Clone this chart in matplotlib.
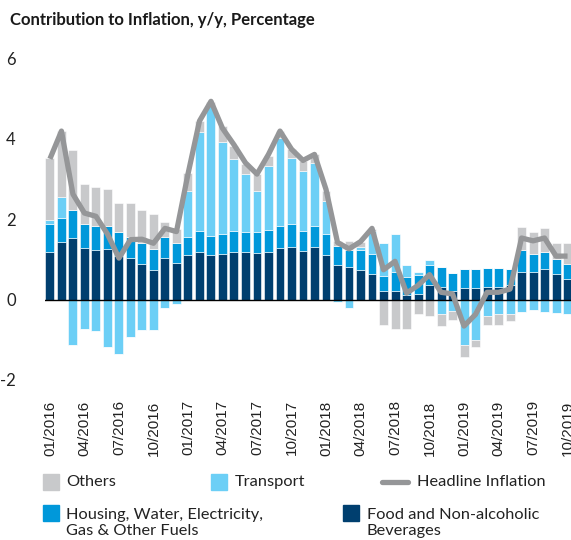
import matplotlib
matplotlib.use('Agg')
import matplotlib.pyplot as plt
from matplotlib.patches import Rectangle
from matplotlib.lines import Line2D
import numpy as np

months = ['%02d/%d' % (m, y) for y in range(2016, 2020) for m in range(1, 13)][:46]

food = [1.17, 1.42, 1.52, 1.27, 1.23, 1.25, 1.09, 1.04, 0.88, 0.74, 1.04, 0.90,
        1.10, 1.17, 1.10, 1.12, 1.17, 1.17, 1.15, 1.17, 1.28, 1.31, 1.20, 1.30,
        1.11, 0.86, 0.81, 0.74, 0.63, 0.21, 0.20, 0.12, 0.14, 0.36, 0.31, 0.20,
        0.29, 0.29, 0.31, 0.31, 0.35, 0.68, 0.68, 0.76, 0.63, 0.50]
housing = [0.72, 0.62, 0.71, 0.62, 0.59, 0.58, 0.60, 0.51, 0.52, 0.51, 0.51, 0.51,
           0.46, 0.54, 0.49, 0.52, 0.54, 0.50, 0.52, 0.56, 0.56, 0.56, 0.51, 0.54,
           0.51, 0.48, 0.42, 0.48, 0.49, 0.37, 0.49, 0.43, 0.48, 0.51, 0.49, 0.47,
           0.48, 0.48, 0.48, 0.48, 0.41, 0.55, 0.45, 0.41, 0.39, 0.38]
transport = [0.09, 0.50, -1.13, -0.74, -0.79, -1.17, -1.36, -0.93, -0.77, -0.75, -0.21, -0.10,
             1.13, 2.45, 3.22, 2.29, 1.78, 1.45, 1.04, 1.59, 2.18, 1.66, 1.48, 1.56,
             0.83, -0.07, -0.21, 0.08, 0.58, 0.82, 0.95, 0.32, 0.07, 0.11, -0.36, -0.29,
             -1.14, -1.00, -0.41, -0.37, -0.36, -0.31, -0.27, -0.31, -0.33, -0.35]
others = [1.53, 1.65, 1.49, 0.99, 0.99, 0.92, 0.71, 0.85, 0.83, 0.88, 0.39, 0.35,
          0.45, 0.29, 0.10, 0.38, 0.33, 0.26, 0.42, 0.25, 0.17, 0.21, 0.26, 0.21,
          0.25, 0.12, 0.23, 0.12, 0.05, -0.64, -0.74, -0.73, -0.36, -0.41, -0.29, -0.23,
          -0.29, -0.18, -0.23, -0.27, -0.18, 0.58, 0.56, 0.61, 0.38, 0.52]
headline = [3.50, 4.19, 2.62, 2.15, 2.07, 1.63, 1.03, 1.49, 1.50, 1.40, 1.77, 1.69,
            3.12, 4.44, 4.93, 4.26, 3.85, 3.40, 3.12, 3.61, 4.19, 3.74, 3.46, 3.61,
            2.74, 1.42, 1.26, 1.44, 1.77, 0.74, 0.95, 0.16, 0.35, 0.62, 0.18, 0.14,
            -0.66, -0.37, 0.18, 0.18, 0.26, 1.53, 1.46, 1.53, 1.08, 1.08]

c_food = '#003f6f'
c_housing = '#0098da'
c_transport = '#6ccff6'
c_others = '#c8c9cb'
c_head = '#959698'

W, H = 571, 540
fig = plt.figure(figsize=(W / 100, H / 100), dpi=100)
ax = fig.add_axes([45 / W, (H - 392) / H, 526 / W, 333.7 / H])

x = np.arange(len(months))
bw = 0.78
pos_base = np.zeros(len(x))
neg_base = np.zeros(len(x))
# stack order: food, housing, transport, others (positives up, negatives down)
for vals, col in [(food, c_food), (housing, c_housing), (transport, c_transport), (others, c_others)]:
    v = np.array(vals)
    pos = np.where(v > 0, v, 0)
    neg = np.where(v < 0, v, 0)
    ax.bar(x, pos, bw, bottom=pos_base, color=col, edgecolor='white', linewidth=0.4)
    ax.bar(x, neg, bw, bottom=neg_base, color=col, edgecolor='white', linewidth=0.4)
    pos_base += pos
    neg_base += neg

ax.plot(x, headline, color=c_head, lw=3.8, solid_joinstyle='round', solid_capstyle='butt', zorder=5)
ax.axhline(0, color='black', lw=1.0, zorder=4)

ax.set_xlim(-0.43, 45.3)
ax.set_ylim(-2.3, 6.0)
for s in ax.spines.values():
    s.set_visible(False)
ax.set_yticks([-2, 0, 2, 4, 6])
ax.set_yticklabels(['-2', '0', '2', '4', '6'], fontfamily='Lato', fontsize=12, color='#222222')
ax.tick_params(axis='y', length=0, pad=21)
ax.set_xticks(x[::3])
ax.set_xticklabels(months[::3], rotation=90, fontfamily='Liberation Sans', fontsize=11, color='#222222')
ax.tick_params(axis='x', length=0, pad=6)

fig.text(10 / W, 1 - 20 / H, 'Contribution to Inflation, y/y, Percentage', fontfamily='Lato',
         fontweight='bold', fontsize=12, va='center', ha='left', color='#1a1a1a')

# legend drawn by hand
def px(xp, yp):
    return xp / W, 1 - yp / H

def square(x0, y0, col):
    fx, fy = px(x0, y0 + 16)
    fig.add_artist(Rectangle((fx, fy), 16 / W, 16 / H, transform=fig.transFigure, color=col))

lfont = dict(fontfamily='Lato', fontsize=11.8, color='#222222', va='center', ha='left')
square(43, 474, c_others)
fig.text(*px(66, 482), 'Others', **lfont)
square(211, 474, c_transport)
fig.text(*px(235, 482), 'Transport', **lfont)
fig.add_artist(Line2D([382 / W, 408 / W], [1 - 482 / H, 1 - 482 / H], transform=fig.transFigure,
                      color=c_head, lw=3.8, solid_capstyle='round'))
fig.text(*px(417, 482), 'Headline Inflation', **lfont)
square(43, 505, c_housing)
fig.text(*px(66, 523), 'Housing, Water, Electricity,\nGas & Other Fuels', linespacing=1.15, **lfont)
square(343, 505, c_food)
fig.text(*px(367, 523), 'Food and Non-alcoholic\nBeverages', linespacing=1.15, **lfont)

fig.savefig('out.png', dpi=100)
